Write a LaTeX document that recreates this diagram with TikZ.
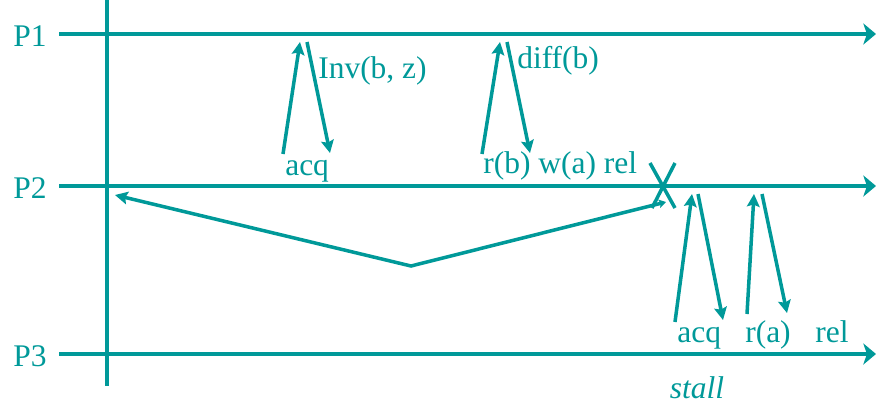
\documentclass[tikz,border=0pt]{standalone}
\usepackage{fontspec}
\setmainfont{Liberation Serif}
\usetikzlibrary{arrows.meta}
\definecolor{CT}{HTML}{009999}
\tikzset{
	tl/.style = {font=\fontsize{22.4}{26}\selectfont, text=CT, inner sep=0pt, anchor=base west},
	ln/.style = {draw=CT, line width=2.5pt},
	ar/.style = {ln, -{Stealth[length=9pt, width=9pt, inset=1.5pt]}},
	tm/.style = {ln, -{Stealth[length=9pt, width=15pt, inset=2.5pt]}},
}
\begin{document}
\begin{tikzpicture}
	\useasboundingbox (0,0) rectangle (21.9,-10.1);
	
	%%═══════════════════════════════════════════════════════════════════
	%% TIME AXES   P1 y = -0.85, P2 y = -4.65, P3 y = -8.85
	%%═══════════════════════════════════════════════════════════════════
	\coordinate (v0) at (2.675, 0);
	\coordinate (v1) at (2.675, -9.65);
	\draw[ln] (v0) -- (v1);
	\foreach \p/\y in {1/-0.85, 2/-4.65, 3/-8.85} {
		\coordinate (s\p) at (1.475, \y);
		\coordinate (e\p) at (21.9, \y);
		\draw[tm] (s\p) -- (e\p);
		\node[tl] (P\p) at (0.325, \y-0.31) {P\p};
	}
	
	%% P2 -> P1 -> P2 ─────────────────────────────────────────────────
	\coordinate (u1) at (7.075, -3.85);  \coordinate (w1) at (7.5,   -1.05);
	\coordinate (u2) at (7.675, -1.05);  \coordinate (w2) at (8.25,  -3.825);
	\coordinate (u3) at (12.05, -3.85);  \coordinate (w3) at (12.5,  -1.05);
	\coordinate (u4) at (12.675,-1.05);  \coordinate (w4) at (13.25, -3.825);
	\foreach \i in {1,...,4} \draw[ar] (u\i) -- (w\i);
	
	\node[tl] (inv)  at (7.95,  -1.95)  {Inv(b, z)};
	\node[tl] (diff) at (12.925,-1.7)   {diff(b)};
	\node[tl] (acqA) at (7.125, -4.375) {acq};
	\node[tl] (rw)   at (12.075,-4.325) {r(b) w(a) rel};
	
	%% P3 -> P2 -> P3 ─────────────────────────────────────────────────
	\coordinate (u5) at (16.875,-8.05);  \coordinate (w5) at (17.3,  -4.85);
	\coordinate (u6) at (17.45, -4.85);  \coordinate (w6) at (18.075,-8.0);
	\coordinate (u7) at (18.675,-7.85);  \coordinate (w7) at (18.85, -4.85);
	\coordinate (u8) at (19.05, -4.85);  \coordinate (w8) at (19.675,-7.825);
	\foreach \i in {5,...,8} \draw[ar] (u\i) -- (w\i);
	
	\node[tl] (acqB) at (16.925,-8.55) {acq};
	\node[tl] (ra)   at (18.625,-8.55) {r(a)};
	\node[tl] (relB) at (20.375,-8.55) {rel};
	\node[tl, anchor=base] (stall) at (17.425,-9.95) {\itshape stall};
	
	%%═══════════════════════════════════════════════════════════════════
	%% CANCELLED RELEASE  (cross on P2, path back to the axis)
	%%═══════════════════════════════════════════════════════════════════
	\coordinate (x1) at (16.25, -4.075);  \coordinate (x2) at (16.875,-5.2);
	\coordinate (x3) at (16.875,-4.075);  \coordinate (x4) at (16.3,  -5.2);
	\draw[ln] (x1) -- (x2);
	\draw[ln] (x3) -- (x4);
	
	\coordinate (vr) at (16.65, -5.05);
	\coordinate (vb) at (10.275,-6.65);
	\coordinate (vl) at (2.875, -4.875);
	\draw[ar, {Stealth[length=5pt, width=6pt, inset=1pt]}-{Stealth[length=9pt, width=9pt, inset=1.5pt]}]
	(vr) -- (vb) -- (vl);
	
\end{tikzpicture}
\end{document}
